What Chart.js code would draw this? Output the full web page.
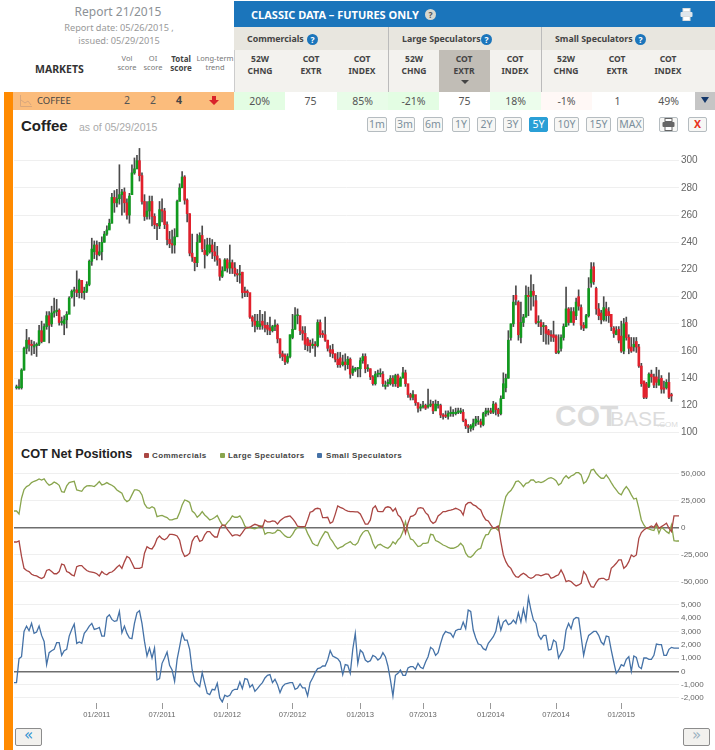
<!DOCTYPE html>
<html>
<head>
<meta charset="utf-8">
<title>Coffee COT</title>
<script src="https://cdn.jsdelivr.net/npm/chart.js@4"></script>
<style>
body { margin: 0; background: #fff; width: 715px; height: 750px; overflow: hidden; position: relative; font-family: "Noto Sans", sans-serif; }
.t, .box, canvas { position: absolute; }
.t { white-space: nowrap; line-height: 1; }
.c { text-align: center; }
.col { font-size: 8.5px; font-weight: bold; color: #444; width: 50px; line-height: 12px; text-align: center; top: 53px; }
.val { font-size: 10.5px; color: #555; text-align: center; top: 95px; line-height: 12px; height: 12px; }
.grp { font-size: 8.8px; font-weight: bold; color: #444; top: 35px; }
.q { width: 11px; height: 11px; border-radius: 6px; background: #1b75bb; color: #fff; font-size: 8.5px; font-weight: bold; line-height: 11px; text-align: center; top: 34px; }
.btn { top: 117px; height: 13px; border: 1px solid #b5bcc0; border-radius: 2px; background: #f7f7f5; color: #7b8f9c; font: 10.5px/13px "Noto Sans", sans-serif; text-align: center; }
.leg { font: bold 8px/8px "Liberation Sans", sans-serif; letter-spacing: 0.4px; color: #444; top: 452px; }
.sq { width: 5px; height: 5px; border-radius: 1px; top: 453px; }
.nav { top: 728px; width: 25px; height: 16px; border: 1px solid #8c8c8c; border-radius: 2px; background: #f2f1ee; text-align: center; font: 15px/13px "DejaVu Sans", sans-serif; }
</style>
</head>
<body>
<!-- header blocks -->
<div class="box" style="left:234px;top:1px;width:481px;height:26px;background:#1b75bb"></div>
<div class="box" style="left:234px;top:27px;width:481px;height:23px;background:#e8e6df"></div>
<div class="box" style="left:234px;top:50px;width:481px;height:42px;background:#f3f2ee"></div>
<div class="box" style="left:439px;top:50px;width:51px;height:42px;background:#c1bdb6"></div>
<div class="box" style="left:234px;top:50px;width:1px;height:42px;background:#ccc"></div>
<div class="box" style="left:388px;top:27px;width:1px;height:65px;background:#bbb"></div>
<div class="box" style="left:541px;top:27px;width:1px;height:65px;background:#bbb"></div>

<div class="box" style="left:4px;top:92px;width:9px;height:658px;background:#ff8a00"></div>
<div class="box" style="left:13px;top:92px;width:221px;height:18px;background:#fbbc7c"></div>
<div class="box" style="left:234px;top:92px;width:51px;height:18px;background:#e3fde3"></div>
<div class="box" style="left:337px;top:92px;width:51px;height:18px;background:#e8fce8"></div>
<div class="box" style="left:388px;top:92px;width:51px;height:18px;background:#e3fde3"></div>
<div class="box" style="left:490px;top:92px;width:51px;height:18px;background:#ecfdec"></div>
<div class="box" style="left:541px;top:92px;width:51px;height:18px;background:#fff8f6"></div>
<div class="box" style="left:695px;top:92px;width:20px;height:18px;background:#c5c5c5"></div>

<div class="t c" style="left:58px;width:120px;top:6px;font-size:12px;color:#8c9196">Report 21/2015</div>
<div class="t c" style="left:49px;width:140px;top:23px;font-size:9.2px;color:#999">Report date: 05/26/2015 ,</div>
<div class="t c" style="left:49px;width:140px;top:36px;font-size:9.2px;color:#999">issued: 05/29/2015</div>
<div class="t" style="left:35px;top:64px;font-size:10.5px;font-weight:bold;color:#333">MARKETS</div>
<div class="t c" style="left:112px;width:30px;top:54px;font-size:7.5px;line-height:9px;color:#777">Vol<br>score</div>
<div class="t c" style="left:138px;width:30px;top:54px;font-size:7.5px;line-height:9px;color:#777">OI<br>score</div>
<div class="t c" style="left:166px;width:30px;top:54px;font-size:8px;line-height:9px;font-weight:bold;color:#444">Total<br>score</div>
<div class="t c" style="left:195px;width:40px;top:54px;font-size:7.5px;line-height:9px;color:#777">Long-term<br>trend</div>

<svg class="box" style="left:20px;top:95px" width="12" height="12"><path d="M0.5 0V11.5H12" fill="none" stroke="#d9a77c"/><path d="M1 5L5 8L8 6L11 10" fill="none" stroke="#d9a77c"/></svg>
<div class="t" style="left:37px;top:96px;font-size:9.5px;color:#444">COFFEE</div>
<div class="t c" style="left:117px;width:20px;top:95px;font-size:10.5px;color:#555">2</div>
<div class="t c" style="left:143px;width:20px;top:95px;font-size:10.5px;color:#555">2</div>
<div class="t c" style="left:169px;width:20px;top:95px;font-size:10.5px;font-weight:bold;color:#444">4</div>
<svg class="box" style="left:209px;top:96px" width="10" height="10"><path d="M3 0H7V4H10L5 9L0 4H3Z" fill="#d9232a"/></svg>

<div class="t" style="left:251px;top:9px;font-size:11px;font-weight:bold;color:#fff">CLASSIC DATA – FUTURES ONLY</div>
<div class="t q" style="left:425px;top:9px;background:#d8d8d0;color:#555">?</div>
<svg class="box" style="left:680px;top:8px" width="13" height="13"><rect x="3" y="0.5" width="7" height="3" fill="#fff" stroke="#ddd"/><rect x="0.5" y="4" width="12" height="5" rx="1" fill="#dfe6ec"/><rect x="3" y="8.5" width="7" height="4" fill="#fff" stroke="#ddd"/></svg>

<div class="t grp" style="left:247px">Commercials</div><div class="t q" style="left:307px">?</div>
<div class="t grp" style="left:402px">Large Speculators</div><div class="t q" style="left:481px">?</div>
<div class="t grp" style="left:555px">Small Speculators</div><div class="t q" style="left:635px">?</div>

<div class="t col" style="left:235px">52W<br>CHNG</div>
<div class="t col" style="left:286px">COT<br>EXTR</div>
<div class="t col" style="left:337px">COT<br>INDEX</div>
<div class="t col" style="left:389px">52W<br>CHNG</div>
<div class="t col" style="left:439px">COT<br>EXTR</div>
<div class="t col" style="left:490px">COT<br>INDEX</div>
<div class="t col" style="left:541px">52W<br>CHNG</div>
<div class="t col" style="left:592px">COT<br>EXTR</div>
<div class="t col" style="left:643px">COT<br>INDEX</div>
<div class="box" style="left:461px;top:80px;width:0;height:0;border-left:4px solid transparent;border-right:4px solid transparent;border-top:4px solid #444"></div>

<div class="t val" style="left:234px;width:51px">20%</div>
<div class="t val" style="left:285px;width:51px">75</div>
<div class="t val" style="left:337px;width:51px">85%</div>
<div class="t val" style="left:388px;width:51px">-21%</div>
<div class="t val" style="left:439px;width:51px">75</div>
<div class="t val" style="left:490px;width:51px">18%</div>
<div class="t val" style="left:541px;width:51px">-1%</div>
<div class="t val" style="left:592px;width:51px">1</div>
<div class="t val" style="left:643px;width:51px">49%</div>
<div class="box" style="left:701px;top:97px;width:0;height:0;border-left:4px solid transparent;border-right:4px solid transparent;border-top:6px solid #14386b"></div>

<!-- chart titles and range buttons -->
<div class="t" style="left:21px;top:118px;font:bold 15px/16px 'Liberation Sans',sans-serif;color:#222">Coffee</div>
<div class="t" style="left:79px;top:122px;font:10.5px/11px 'Liberation Sans',sans-serif;color:#aaa">as of 05/29/2015</div>
<div class="t btn" style="left:367px;width:18px">1m</div>
<div class="t btn" style="left:395px;width:18px">3m</div>
<div class="t btn" style="left:423px;width:18px">6m</div>
<div class="t btn" style="left:452px;width:16px">1Y</div>
<div class="t btn" style="left:477px;width:17px">2Y</div>
<div class="t btn" style="left:503px;width:17px">3Y</div>
<div class="t btn" style="left:529px;width:17px;background:#2a9fd6;border-color:#2a9fd6;color:#fff">5Y</div>
<div class="t btn" style="left:554px;width:23px">10Y</div>
<div class="t btn" style="left:586px;width:23px">15Y</div>
<div class="t btn" style="left:617px;width:25px">MAX</div>
<div class="t btn" style="left:659px;width:17px"></div>
<svg class="box" style="left:662px;top:118px" width="13" height="13"><rect x="3" y="0.5" width="7" height="3" fill="#fff" stroke="#666"/><rect x="0.5" y="4" width="12" height="5" rx="1" fill="#666"/><rect x="3" y="8.5" width="7" height="4" fill="#fff" stroke="#666"/></svg>
<div class="t btn" style="left:688px;width:17px;color:#e8331c;font-weight:bold">X</div>

<!-- watermark -->
<div class="t" style="left:555px;top:401px;font:bold 30px/30px 'Liberation Sans',sans-serif;color:#dcdcdc">COT</div>
<div class="t" style="left:610px;top:409px;font:21px/20px 'Liberation Sans',sans-serif;color:#dcdcdc">BASE</div>
<div class="t" style="left:657px;top:420px;font:8px/9px 'Liberation Sans',sans-serif;color:#dcdcdc">.COM</div>

<div class="t" style="left:21px;top:446px;font:bold 12.7px/16px 'Liberation Sans',sans-serif;color:#222">COT Net Positions</div>
<div class="t sq" style="left:144px;background:#aa4643"></div><div class="t leg" style="left:152px">Commercials</div>
<div class="t sq" style="left:220px;background:#89a54e"></div><div class="t leg" style="left:228px">Large Speculators</div>
<div class="t sq" style="left:317px;background:#4572a7"></div><div class="t leg" style="left:326px">Small Speculators</div>

<canvas id="priceChart" width="715" height="300" style="left:0;top:140px"></canvas>
<canvas id="cotChart" width="715" height="128" style="left:0;top:462px"></canvas>
<canvas id="smallChart" width="715" height="135" style="left:0;top:590px"></canvas>

<div class="t nav" style="left:15px;color:#2a8fd0">«</div>
<div class="t nav" style="left:683px;color:#9ab0bf">»</div>

<script>
// weekly candles, price (first slot and last three are empty)
const candleOpen = [null,
  133,133,133,146,162,168,165,163,164,165,
  175,167,178,186,180,188,189,190,181,180,
  183,187,200,204,205,203,212,203,204,209,
  226,233,238,231,233,240,246,249,254,273,
  269,272,275,277,269,260,275,291,294,300,
  289,270,259,263,270,259,253,252,264,263,
  253,242,239,238,244,270,280,288,271,261,
  232,229,225,240,245,234,231,233,238,233,
  230,227,215,219,227,221,225,221,217,216,
  218,204,204,203,185,182,178,178,182,179,
  179,177,175,178,179,169,158,157,152,156,
  170,176,186,186,175,173,169,166,164,165,
  164,181,173,172,168,161,161,158,154,155,
  150,152,150,154,144,146,147,147,153,156,
  147,147,141,136,143,143,143,134,136,136,
  140,136,142,134,140,144,136,128,126,128,
  122,118,119,120,119,120,121,116,120,120,
  113,113,112,114,114,114,115,115,115,109,
  105,103,104,107,108,108,106,114,115,116,
  115,121,117,114,125,133,140,170,180,201,
  196,170,181,185,201,200,204,197,181,181,
  178,178,175,172,172,171,159,162,170,178,
  191,181,189,186,200,192,179,177,186,210,
  222,206,191,188,183,191,189,187,177,172,
  176,171,160,181,170,163,163,167,163,149,
  138,136,134,143,141,141,135,140,133,133,137,128,
  null,null,null];
const candleClose = [null,
  133,133,146,162,168,165,164,164,165,175,
  167,178,186,179,188,189,190,181,181,183,
  187,199,204,205,203,212,203,204,209,226,
  235,238,231,233,240,246,249,254,273,269,
  272,275,277,269,260,274,291,294,300,289,
  270,259,263,270,259,253,252,264,263,253,
  242,239,238,244,270,280,288,271,261,232,
  229,225,240,245,235,231,238,238,233,230,
  227,215,219,227,221,225,221,217,216,216,
  203,203,203,185,182,179,182,180,179,177,
  176,175,178,179,169,158,156,152,156,172,
  176,186,186,175,173,165,164,164,165,164,
  181,172,172,168,162,159,158,154,150,150,
  152,150,154,143,147,147,147,153,156,147,
  147,141,136,143,143,143,136,135,137,140,
  136,142,134,140,144,136,128,126,128,122,
  118,119,120,118,120,121,116,121,120,113,
  112,112,114,115,115,115,116,116,109,105,
  104,105,107,110,108,106,114,116,116,115,
  121,117,114,125,136,140,168,180,196,198,
  172,181,185,201,200,204,201,181,181,178,
  178,173,172,171,170,159,160,170,178,191,
  181,189,181,196,193,179,177,186,206,220,
  211,191,186,183,192,186,186,178,173,175,
  168,160,180,170,162,160,165,163,149,136,
  126,126,143,141,135,137,139,132,132,137,126,127,
  null,null,null];
const candleHigh = [null,
  135,139,147,163,176,170,168,167,166,179,
  182,180,189,189,193,199,198,191,185,186,
  189,200,205,207,219,213,206,207,211,227,
  243,241,241,240,244,248,252,257,276,278,
  279,297,279,280,272,276,297,302,304,309,
  291,275,270,274,274,261,254,270,272,265,
  255,248,249,250,271,283,292,289,272,261,
  246,228,246,247,252,242,243,243,242,240,
  237,228,222,228,228,238,227,225,220,223,
  218,207,205,186,186,187,187,190,187,189,
  181,185,179,183,180,169,160,158,158,172,
  187,192,191,186,178,178,170,168,169,167,
  183,183,175,185,168,164,165,158,159,159,
  157,158,156,155,149,148,148,155,158,158,
  150,147,142,145,146,147,145,138,139,142,
  142,143,143,141,148,146,135,129,131,125,
  122,121,123,121,132,124,123,124,123,121,
  114,116,116,119,117,118,118,118,117,110,
  106,106,110,112,112,110,115,118,118,118,
  123,122,118,127,144,143,175,180,201,208,
  197,196,187,208,207,216,209,201,186,183,
  181,179,176,175,182,172,172,172,180,207,
  192,192,192,199,205,194,181,187,214,225,
  225,207,195,190,200,196,192,180,178,178,
  178,182,184,185,172,170,170,170,165,151,
  138,137,144,146,143,148,146,142,138,139,144,129,
  null,null,null];
const candleLow = [null,
  132,132,132,146,158,160,157,158,156,164,
  166,172,176,166,178,185,186,179,179,172,
  177,196,199,193,200,199,199,198,203,208,
  223,228,227,230,227,240,245,250,254,262,
  266,268,260,262,257,254,286,290,294,285,
  268,256,257,257,252,250,242,250,255,250,
  238,236,232,232,265,275,283,268,255,230,
  226,219,222,240,233,221,230,232,228,226,
  223,212,214,219,218,217,217,215,211,210,
  199,200,200,184,178,174,176,176,176,174,
  172,172,174,175,166,155,153,150,151,155,
  169,176,180,172,168,161,160,159,162,156,
  163,170,170,167,160,156,155,152,148,148,
  149,146,147,140,142,145,141,141,151,144,
  145,139,135,135,141,141,134,132,134,135,
  134,134,133,135,141,134,126,124,124,120,
  115,116,118,117,118,119,114,118,118,111,
  110,111,110,112,112,113,114,114,108,103,
  100,101,102,105,106,104,105,112,113,114,
  114,113,112,113,125,130,140,168,178,194,
  168,166,178,185,186,190,193,180,178,172,
  167,165,165,167,167,158,158,160,168,178,
  179,182,179,183,190,176,175,177,185,207,
  209,187,183,180,182,182,181,175,170,172,
  166,159,158,168,158,159,160,159,148,134,
  125,125,133,137,133,133,135,129,129,132,125,123,
  null,null,null];

// net positions in thousands of contracts
const commercials = [
  -13.6,-13.6,-12.7,-27,-38,-40,-41,-43.5,-44.5,-45,
  -46.3,-47.5,-46,-40,-39,-41,-43,-43,-41,-34,
  -34.9,-41,-42,-44,-45,-36.4,-35.5,-35.5,-38,-40,
  -41,-41.5,-42,-43,-45,-41,-43,-44,-42,-41.4,
  -39.5,-37,-35,-38,-32,-27,-28.4,-33,-38,-38,
  -38,-37,-24,-18,-19.5,-20,-16.5,-10.5,-8,-10.5,
  -11.5,-10,-6.5,-6.5,-7,-8,-12,-22,-27,-26,
  -24,-13,-9,-8,-13,-12,-7,-4,-4,-7,
  -9,-9,-1,2,2,-2,-5,-8,-7,-7,
  -8,-5,-1.5,0,0,1.5,2.8,2,1,0,
  6.8,5,5,6,5.5,3,6,8,9.5,10,
  10.5,8,5,1,0.6,0.6,0.6,6.8,14,14.8,
  17,17.6,17,9,9,9.3,3.7,5,12,19.8,
  18.5,17.6,16,15,14.5,14.5,14.2,14.2,12.3,7.7,
  3,3,6.8,17.6,19.8,14.8,14.5,14.5,18.2,19,
  18.2,15,17.6,11.4,9.3,4.3,-5.6,3.7,9.9,10.5,
  12.3,17.6,18.2,17.6,13.6,11.4,5.9,3.7,5.2,10.5,
  12.3,14.5,14.5,15.4,16,16.7,17.6,16.7,15.4,11.4,
  20.7,22.8,23,20.7,19.8,17.6,16,10.5,6.8,5.9,
  2.2,-0.9,0,1.2,-13.3,-25.6,-31.8,-35.8,-38,-42.6,
  -45.7,-46.3,-44,-42.6,-44,-46.3,-47.2,-46.3,-44,-44,
  -45,-44,-43.2,-43.5,-47.2,-46.3,-45,-44,-39.5,-44,
  -50.3,-49.4,-50.3,-52.5,-54.3,-53.4,-51.9,-41,-44,-50.3,
  -55,-55.6,-51.2,-48,-47.2,-47.2,-48.8,-48.1,-38,-35.8,
  -33.3,-30.2,-30.2,-38,-35.8,-31.8,-25.6,-27.2,-25.6,-10.2,
  -4.9,-2.5,-0.9,0,1.2,0,3.7,-0.9,0.6,2.2,
  3.7,-0.9,-4,10.5,10.5,10.5];
const largeSpeculators = [
  15.1,15.1,12.3,26.9,35,37.7,38.9,41.4,42.6,43.5,
  44.8,43.8,44.8,41.4,38.9,40,42,40.7,38.9,33,
  32.4,38.3,41.4,42,42.6,34.6,34,33.3,36.7,38.3,
  38.6,38.3,37.7,39.8,42.3,39.2,40,41.4,40,38.9,
  37.3,34.6,33,31.5,26,23.8,25.3,30,34.6,34.6,
  33.6,30,21.6,18.2,17.6,19,17.6,9.9,10.5,11,
  9.9,9,6.8,6.8,7.7,8.3,13.6,20.7,25.3,24.4,
  23,15,13,9.3,11.4,14.5,11.4,9.3,6.8,7.7,
  9,11,6.2,2.2,1.2,4.3,6.8,10.5,9.3,9.3,
  10.5,6.8,1.2,-0.9,0,-0.9,-1.5,-0.3,1.2,1.2,
  -6.5,-4.9,-4.9,-5.6,-4.9,-2.5,-3,-5.6,-8,-9.3,
  -9.3,-6.5,-2.5,0,0.6,0.6,0,-5.6,-10,-14.8,
  -16.4,-17,-11.7,-7.7,-4,-4.9,-10.2,-13.3,-17.3,-20,
  -18.5,-17.6,-15.7,-14.5,-13.3,-15.7,-16.4,-14.2,-8.6,-4.9,
  -3,-3,-7.7,-14.8,-19.4,-16.4,-15.7,-17.3,-18.5,-19.4,
  -17.3,-13.3,-15.4,-11.7,-9.3,-4,5.2,-4,-10.8,-11.7,
  -14.8,-17.9,-17.3,-14.8,-14.8,-14.2,-6.5,-7,-12.3,-13.3,
  -14.8,-16.4,-17.3,-18.5,-19.4,-19.4,-18.5,-17.3,-14.8,-17.3,
  -24,-27.2,-27.8,-25.6,-22.5,-20.4,-19.4,-11.7,-7,-6.5,
  -1.9,-0.9,-0.9,-3,8.3,19,28.4,32,34,37.7,
  42.3,42.9,40.7,37.7,40.7,41.4,43.8,43.8,41.4,42.3,
  41.4,42.3,43.8,45.4,46,45,43.2,39.2,40.7,45.4,
  47.8,45.4,47.5,48.5,50.6,50.6,48.5,40.7,42.3,46.9,
  53,53.7,50,47.5,45.4,45.4,48.5,45.4,41.4,37.7,
  34.6,31.5,30,34.6,37.7,34.6,30,26.2,26.9,17.6,
  6.8,2.2,-0.9,-1.5,-2.5,-3,2.2,-5.6,0,-1.9,
  -4,-5.6,2.2,-12.3,-12.7,-12.7];
const smallSpeculators = [
  -0.85,-0.85,0.95,1.1,3,3.4,3.05,3.6,2.85,2.95,
  3.4,2.7,2.25,0.5,1.4,1.55,1.65,2.15,2.15,1.2,
  1.55,1.65,2.65,3.15,3.55,2.1,2.2,2.1,2.85,3.1,
  3.4,3.6,3.15,3.2,3.3,2.65,2.65,4.05,4.25,3.9,
  3.75,3.8,4.5,2.9,3.4,2.85,2.5,2.45,3.6,4.4,
  4.55,3.6,2.25,1.15,1.75,1,1.75,-0.65,-0.55,0.6,
  1,1.45,0.45,0.1,-0.75,0.9,1.85,2.85,2.35,2.35,
  1.65,0.1,-0.75,-0.95,-1.15,-0.1,-0.9,-1.65,-1.75,-1.35,
  -1.4,-0.9,-2,-2.3,-1.8,-1.9,-1.8,-1.45,-1.35,-1.35,
  -0.8,-1.3,-0.55,-0.6,-1.2,-1,-1.5,-1.3,-1.05,-0.85,
  -0.5,-0.3,-0.25,-0.85,-0.6,-1,-1.6,-1.15,-0.95,-0.9,
  -0.85,-0.85,-1.35,-1.25,-0.95,-1.25,-1.25,-1.85,-0.85,-0.5,
  -0.1,0.2,0.25,0.4,0.4,0.85,1.55,1.15,1.05,0.95,
  0.7,-0.25,0.5,0.45,-0.15,1.65,2.85,0.6,1.6,1.4,
  0.85,0.7,0.8,1.2,1.1,0.85,1,1.4,1.1,0.4,
  -0.65,-1.85,-0.3,-0.15,0.1,-0.3,-0.3,0.25,0.35,0.35,
  0.15,0.6,0.3,0.2,0.7,1.1,1.8,1.65,1.2,1.4,
  2.1,2.7,3,2.9,2.85,2.55,3.05,3.15,3.15,3.7,
  3.2,4.6,4.5,3.1,2.5,2.05,2,1.7,1.6,2.1,
  2.35,2.6,3,4,3.1,3.7,3.85,3.5,3.6,3.85,
  3.6,4.4,3.7,4.7,3.85,5.55,4.6,3.85,3.6,2.7,
  2.4,2.7,2.7,1.6,1.65,2.35,2.2,1,1.35,1.7,
  3.1,3.6,3.2,3.9,4.05,4,2.6,1.2,2.1,2.7,
  2.85,3,3,2.7,2.2,2,2.65,2.6,1.6,0.7,
  -0.15,0.1,0.5,0.4,0.9,1.1,0,1.15,1.05,0.35,
  0.2,1,1,0.9,0.9,1.2,2.05,2,2,1.2,
  1.2,1.65,1.8,1.75,1.75,1.75];

// axis ticks
const priceTicks = [100,120,140,160,180,200,220,240,260,280,300];
const cotTicks = [-50,-25,0,25,50];
const cotTickLabels = ["-50,000","-25,000","0","25,000","50,000"];
const smallTicks = [-2,-1,0,1,2,3,4,5];
const smallTickLabels = ["-2,000","-1,000","0","1,000","2,000","3,000","4,000","5,000"];
const xTickWeeks = [33,59,85,111,138,163,190,216,242];
const xTickLabels = ["01/2011","07/2011","01/2012","07/2012","01/2013","07/2013","01/2014","07/2014","01/2015"];

// one slot per week on the shared x axis
const weeks = commercials.map((v, i) => "w" + i);

const GRID = "#efefef";
const TEXT = "#666";
const fontFamily = "'Liberation Sans', sans-serif";

function yAxis(ticks, labels, min, max, size, zeroLine) {
  return {
    position: "right",
    min: min,
    max: max,
    afterBuildTicks: (scale) => { scale.ticks = ticks.map((v) => ({ value: v })); },
    // fixed axis width, and no room reserved for half a label above and below
    afterFit: (scale) => { scale.width = 36; scale.paddingTop = 0; scale.paddingBottom = 0; },
    border: { display: false },
    grid: {
      drawTicks: false,
      color: (ctx) => (zeroLine && ctx.tick && ctx.tick.value === 0 ? "#6e6e6e" : GRID),
      lineWidth: (ctx) => (zeroLine && ctx.tick && ctx.tick.value === 0 ? 1.5 : 1),
    },
    ticks: {
      padding: 2,
      color: TEXT,
      font: { family: fontFamily, size: size },
      callback: (v) => (labels ? labels[ticks.indexOf(v)] : String(v)),
    },
  };
}

const hiddenX = { display: false, offset: false, grid: { display: false } };
const baseOptions = {
  responsive: false,
  animation: false,
  events: [],
  layout: { autoPadding: false, padding: { left: 14, right: 0, top: 0, bottom: 0 } },
  plugins: { legend: { display: false }, tooltip: { enabled: false } },
};

// Price candles: wick and body are two floating bar datasets
new Chart(document.getElementById("priceChart"), {
  type: "bar",
  data: {
    labels: weeks,
    datasets: [
      {
        order: 1,
        grouped: false,
        data: candleOpen.map((o, i) => (o === null ? null : [o, candleClose[i]])),
        backgroundColor: candleOpen.map((o, i) => (candleClose[i] >= o ? "#119a1e" : "#e2202c")),
        barThickness: 2,
        minBarLength: 1,
      },
      {
        order: 2,
        grouped: false,
        data: candleLow.map((l, i) => (l === null ? null : [l, candleHigh[i]])),
        backgroundColor: "#4a4a4a",
        barThickness: 1,
      },
    ],
  },
  options: {
    ...baseOptions,
    scales: {
      x: hiddenX,
      y: yAxis(priceTicks, null, 94.6, 315.2, 10, false),
    },
  },
});

// Net positions of commercials and large speculators
new Chart(document.getElementById("cotChart"), {
  type: "line",
  data: {
    labels: weeks,
    datasets: [
      { data: commercials, borderColor: "#aa4643", borderWidth: 1.3, pointRadius: 0, tension: 0 },
      { data: largeSpeculators, borderColor: "#89a54e", borderWidth: 1.3, pointRadius: 0, tension: 0 },
    ],
  },
  options: {
    ...baseOptions,
    scales: {
      x: hiddenX,
      y: yAxis(cotTicks, cotTickLabels, -58.05, 60.46, 8, true),
    },
  },
});

// Net positions of small speculators, carries the date axis
new Chart(document.getElementById("smallChart"), {
  type: "line",
  data: {
    labels: weeks,
    datasets: [
      { data: smallSpeculators, borderColor: "#4572a7", borderWidth: 1.3, pointRadius: 0, tension: 0 },
    ],
  },
  options: {
    ...baseOptions,
    scales: {
      x: {
        offset: false,
        afterBuildTicks: (scale) => { scale.ticks = xTickWeeks.map((v) => ({ value: v })); },
        afterFit: (scale) => { scale.height = 22; },
        border: { display: false },
        grid: { drawOnChartArea: false, drawTicks: true, tickLength: 6, color: "#999" },
        ticks: {
          autoSkip: false,
          maxRotation: 0,
          padding: 1,
          color: TEXT,
          font: { family: fontFamily, size: 7.6 },
          callback: (v) => xTickLabels[xTickWeeks.indexOf(v)],
        },
      },
      y: yAxis(smallTicks, smallTickLabels, -2.38, 6.11, 8, true),
    },
  },
});
</script>
</body>
</html>
